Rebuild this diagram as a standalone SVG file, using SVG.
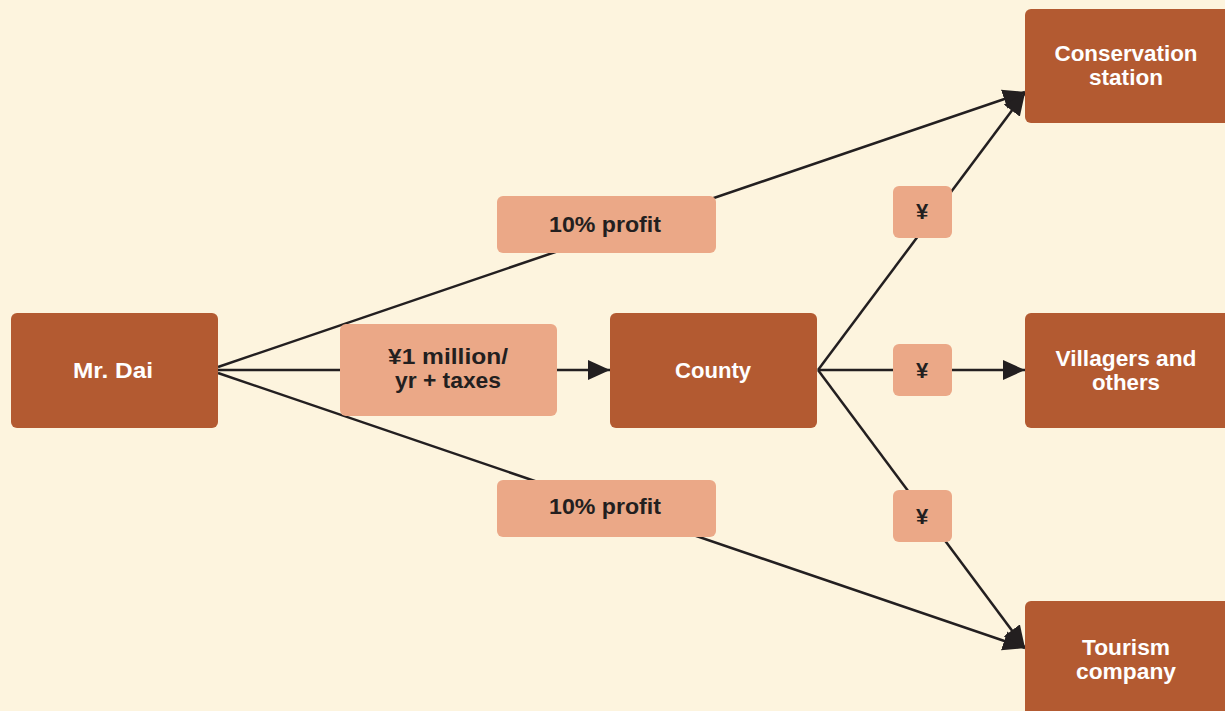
<svg xmlns="http://www.w3.org/2000/svg" width="1225" height="711" viewBox="0 0 1225 711">
<style>
.node{fill:#b35a31}
.lbl{fill:#eba887}
.nt{font-family:"Liberation Sans",Arial,sans-serif;font-weight:bold;font-size:22px;fill:#ffffff;text-anchor:middle}
.lt{font-family:"Liberation Sans",Arial,sans-serif;font-weight:bold;font-size:22px;fill:#231f20;text-anchor:middle}
.edge{stroke:#231f20;stroke-width:2.5;fill:none}
</style>
<defs>
<marker id="arr" markerUnits="userSpaceOnUse" markerWidth="24" markerHeight="20" refX="22" refY="10" orient="auto">
<path d="M0,0 L22,10 L0,20 Z" fill="#231f20"/>
</marker>
</defs>
<rect width="1225" height="711" fill="#fdf4de"/>
<g id="connectors">
<line class="edge" x1="218" y1="367" x2="1025" y2="92" marker-end="url(#arr)"/>
<line class="edge" x1="218" y1="373" x2="1025" y2="648" marker-end="url(#arr)"/>
<line class="edge" x1="218" y1="370" x2="610" y2="370" marker-end="url(#arr)"/>
<line class="edge" x1="818" y1="370" x2="1025" y2="93" marker-end="url(#arr)"/>
<line class="edge" x1="818" y1="370" x2="1025" y2="370" marker-end="url(#arr)"/>
<line class="edge" x1="818" y1="370" x2="1025" y2="648" marker-end="url(#arr)"/>
</g>
<g id="mr-dai"><rect class="node" x="11" y="313" width="207" height="115" rx="6"/><text class="nt" x="113" y="378" textLength="80" lengthAdjust="spacingAndGlyphs">Mr. Dai</text></g>
<g id="county"><rect class="node" x="610" y="313" width="207" height="115" rx="6"/><text class="nt" x="713" y="378" textLength="76" lengthAdjust="spacingAndGlyphs">County</text></g>
<g id="conservation"><rect class="node" x="1025" y="9" width="210" height="114" rx="6"/><text class="nt" x="1126" y="61" textLength="143" lengthAdjust="spacingAndGlyphs">Conservation</text><text class="nt" x="1126" y="85" textLength="74" lengthAdjust="spacingAndGlyphs">station</text></g>
<g id="villagers"><rect class="node" x="1025" y="313" width="210" height="115" rx="6"/><text class="nt" x="1126" y="366" textLength="141" lengthAdjust="spacingAndGlyphs">Villagers and</text><text class="nt" x="1126" y="390" textLength="68" lengthAdjust="spacingAndGlyphs">others</text></g>
<g id="tourism"><rect class="node" x="1025" y="601" width="210" height="120" rx="6"/><text class="nt" x="1126" y="655" textLength="88" lengthAdjust="spacingAndGlyphs">Tourism</text><text class="nt" x="1126" y="679" textLength="100" lengthAdjust="spacingAndGlyphs">company</text></g>
<g id="label-million"><rect class="lbl" x="340" y="324" width="217" height="92" rx="6"/><text class="lt" x="448" y="364" textLength="120" lengthAdjust="spacingAndGlyphs">¥1 million/</text><text class="lt" x="448" y="388" textLength="106" lengthAdjust="spacingAndGlyphs">yr + taxes</text></g>
<g id="label-profit-top"><rect class="lbl" x="497" y="196" width="219" height="57" rx="6"/><text class="lt" x="605" y="232" textLength="112" lengthAdjust="spacingAndGlyphs">10% profit</text></g>
<g id="label-profit-bottom"><rect class="lbl" x="497" y="480" width="219" height="57" rx="6"/><text class="lt" x="605" y="514" textLength="112" lengthAdjust="spacingAndGlyphs">10% profit</text></g>
<g id="yen-top"><rect class="lbl" x="893" y="186" width="59" height="52" rx="6"/><text class="lt" x="922" y="219">¥</text></g>
<g id="yen-mid"><rect class="lbl" x="893" y="344" width="59" height="52" rx="6"/><text class="lt" x="922" y="378">¥</text></g>
<g id="yen-bottom"><rect class="lbl" x="893" y="490" width="59" height="52" rx="6"/><text class="lt" x="922" y="524">¥</text></g>
</svg>
